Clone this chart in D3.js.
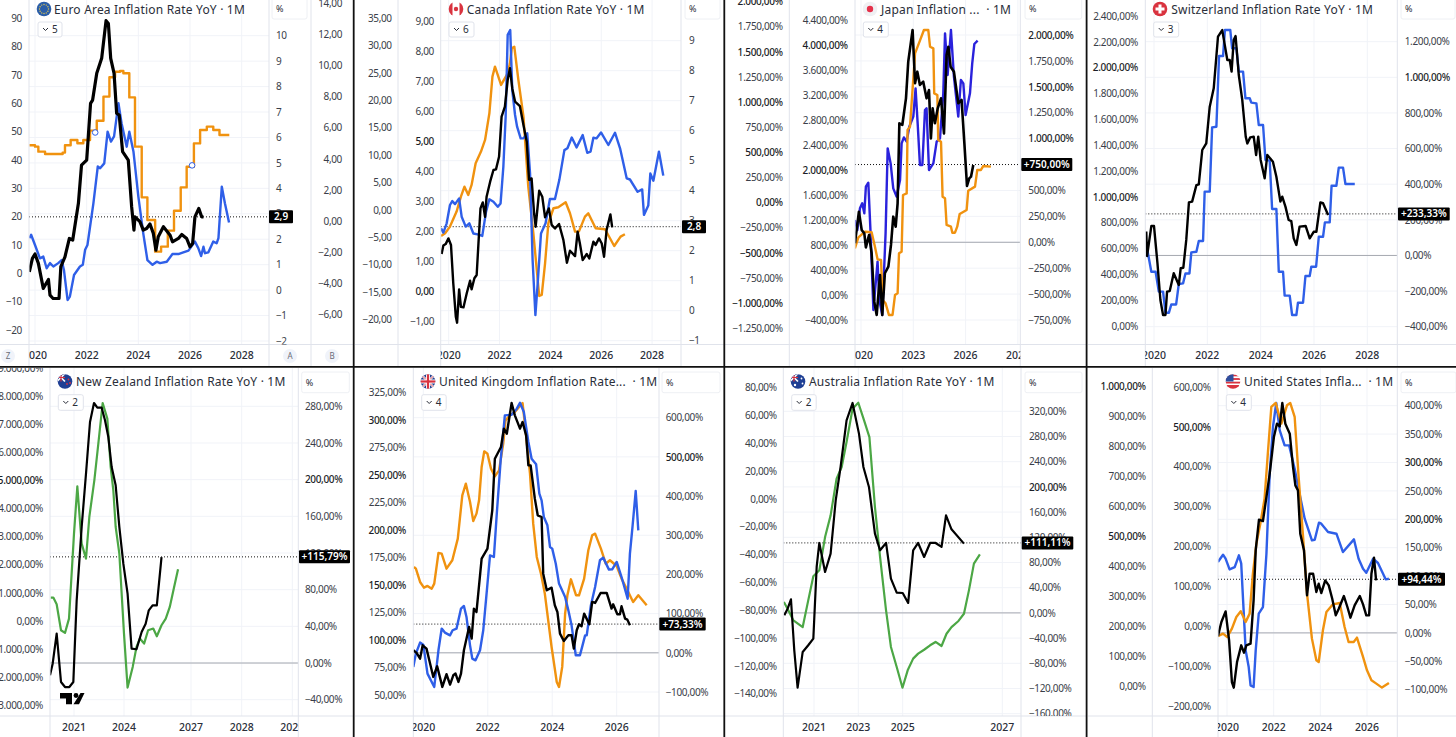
<!DOCTYPE html>
<html lang="en">
  <head>
    <meta charset="UTF-8" />
    <title>Inflation Rate YoY</title>
    <style>
      html, body { margin: 0; background: #fff; }
      text { font-family: "Noto Sans", sans-serif; fill: #2a2e39; white-space: pre; }
    </style>
  </head>
  <body>
    <div id="chart"></div>
    <script src="https://cdn.jsdelivr.net/npm/d3@7"></script>
    <script>
      // series are [year, value]
      const euroBlack = [[2019.78,.72],[2019.9,1.25],[2020,1.42],[2020.13,1.05],[2020.32,.07],[2020.52,.42],[2020.58,-.2],[2020.7,-.33],[2020.93,-.33],[2021,.92],[2021.16,1.31],[2021.33,2.03],[2021.46,1.97],[2021.68,3.41],[2021.8,4.91],[2022,5.11],[2022.15,7.34],[2022.23,7.47],[2022.39,8.52],[2022.58,9.11],[2022.75,10.59],[2022.84,10.48],[2022.93,9.11],[2023.06,8.52],[2023.16,6.95],[2023.26,6.88],[2023.39,5.44],[2023.61,5.11],[2023.74,3.28],[2023.83,2.36],[2023.87,2.88],[2024.06,2.69],[2024.19,2.36],[2024.32,2.42],[2024.45,2.6],[2024.58,2.23],[2024.68,1.57],[2024.77,2.1],[2024.97,2.49],[2025.23,2.16],[2025.32,1.9],[2025.55,2.03],[2025.68,2.19],[2025.87,2.03],[2026,1.7],[2026.1,1.83],[2026.19,2.88],[2026.34,3.21],[2026.45,2.88],[2026.52,2.88]];
      const euroBlue = [[2019.78,12.4],[2019.85,13.6],[2020,10],[2020.19,5.3],[2020.32,5.9],[2020.45,1.8],[2020.58,3.6],[2020.71,2.4],[2020.9,3.6],[2021.03,4.7],[2021.12,1.2],[2021.26,-9.4],[2021.35,-8.2],[2021.51,-.6],[2021.74,2.4],[2021.85,3],[2021.94,8.3],[2022.03,10],[2022.26,24.7],[2022.43,37.7],[2022.52,37.1],[2022.68,38.8],[2022.81,50],[2022.94,46.5],[2023.06,48.3],[2023.23,60],[2023.35,53],[2023.55,44.7],[2023.65,50],[2023.81,43],[2024,27.1],[2024.19,14.1],[2024.35,4.7],[2024.55,3],[2024.71,4.1],[2024.84,3.6],[2025.1,4.1],[2025.32,6.8],[2025.55,6.8],[2025.74,7.4],[2025.94,8],[2026.19,11.2],[2026.32,8.9],[2026.43,6.1],[2026.52,9.4],[2026.58,7.1],[2026.71,7.4],[2026.9,11.2],[2027.03,10.6],[2027.1,12.4],[2027.23,30.6],[2027.35,24.7],[2027.51,17.9]];
      const euroOrange = [[2019.78,4.87],[2020,4.78],[2020.13,4.46],[2020.39,4.31],[2021.07,4.4],[2021.16,4.87],[2021.38,5.21],[2021.64,5],[2021.87,5.21],[2022.13,5.81],[2022.39,6.45],[2022.65,8],[2022.88,9.24],[2023.1,9.6],[2023.29,9.65],[2023.42,9.5],[2023.65,7.95],[2023.87,4.78],[2024.13,1.52],[2024.35,.06],[2024.65,-1.97],[2024.88,-1.65],[2025.14,-.62],[2025.38,.66],[2025.64,2.16],[2025.87,3.49],[2026.15,4.99],[2026.39,5.85],[2026.65,6.07],[2026.9,5.85],[2027.14,5.53],[2027.52,5.53]];
      const euroMarks = [[2022.33,49.7],[2026.08,38.1]];

      const canadaBlack = [[2019.72,1.89],[2019.79,2.17],[2019.88,2.22],[2019.99,2.41],[2020.09,2.19],[2020.18,.91],[2020.28,-.2],[2020.33,-.4],[2020.41,.71],[2020.48,.13],[2020.58,.11],[2020.71,.58],[2020.84,1],[2020.9,.71],[2021.01,1.08],[2021.1,1.19],[2021.17,2.24],[2021.25,3.41],[2021.34,3.61],[2021.43,3.13],[2021.49,3.8],[2021.63,4.3],[2021.76,4.69],[2021.86,4.71],[2021.98,5.13],[2022.08,6.47],[2022.21,6.8],[2022.32,7.69],[2022.41,8.08],[2022.5,7.41],[2022.61,6.97],[2022.8,6.82],[2022.94,6.19],[2023.07,5.63],[2023.16,4.36],[2023.26,4.41],[2023.36,3.24],[2023.42,2.8],[2023.56,4],[2023.68,3.8],[2023.79,3.11],[2023.94,3.41],[2024.05,2.86],[2024.18,2.74],[2024.34,2.89],[2024.51,2.36],[2024.65,1.6],[2024.77,2],[2024.97,1.82],[2025.07,2.63],[2025.16,2.24],[2025.27,1.69],[2025.43,1.89],[2025.53,1.74],[2025.69,2.3],[2025.78,2.19],[2025.91,2.41],[2026.02,2.24],[2026.11,1.8],[2026.21,2.69],[2026.36,3.21],[2026.43,2.78]];
      const canadaBlue = [[2019.7,2.11],[2019.79,1.97],[2019.92,2.28],[2020.05,2.89],[2020.14,3.02],[2020.25,2.92],[2020.41,3.11],[2020.51,2.5],[2020.67,2.17],[2020.81,2.28],[2020.97,1.94],[2021.14,1.91],[2021.32,1.86],[2021.47,2.67],[2021.6,3.08],[2021.76,3],[2021.93,2.83],[2022.04,2.94],[2022.15,4.17],[2022.24,5.83],[2022.32,8.56],[2022.42,8.72],[2022.5,6.72],[2022.61,5.89],[2022.69,5.5],[2022.83,5.11],[2022.94,5.11],[2023.09,5.28],[2023.2,3.94],[2023.3,1.06],[2023.41,-.78],[2023.5,.28],[2023.63,1.94],[2023.81,2.28],[2023.98,3.09],[2024.18,3.09],[2024.35,3.72],[2024.55,4.72],[2024.67,4.78],[2024.84,5.14],[2025.03,4.81],[2025.27,5.22],[2025.45,4.63],[2025.58,4.67],[2025.69,5.13],[2025.81,5.11],[2025.99,5.31],[2026.28,4.89],[2026.54,5.3],[2026.74,4.78],[2027,3.78],[2027.13,3.74],[2027.43,3.33],[2027.61,3.41],[2027.68,2.56],[2027.85,2.87],[2027.93,3.94],[2028.05,3.7],[2028.27,4.67],[2028.44,3.87]];
      const canadaOrange = [[2019.7,-4.77],[2019.86,-4.28],[2020.05,-3.06],[2020.31,-.32],[2020.48,2.42],[2020.62,4.24],[2020.77,2.72],[2020.9,4.55],[2021.06,8.51],[2021.27,10.64],[2021.43,12.77],[2021.6,17.64],[2021.72,24.34],[2021.82,26.17],[2022.06,22.82],[2022.32,24.95],[2022.41,26.78],[2022.48,29.52],[2022.58,29.82],[2022.74,23.73],[2022.94,17.03],[2023.13,4.24],[2023.33,-4.28],[2023.56,-15.73],[2023.66,-15.55],[2023.79,-9.76],[2023.92,-2.45],[2024.12,.29],[2024.31,.47],[2024.6,1.38],[2024.77,-.63],[2024.97,-3.98],[2025.12,-3.98],[2025.36,-1.24],[2025.49,-.63],[2025.78,-3.37],[2026.15,-3.55],[2026.51,-6.6],[2026.76,-4.89],[2026.93,-4.46]];

      const japanBlack = [[2019.65,-10],[2019.75,119],[2019.88,295],[2020.04,119],[2020.19,86],[2020.28,-49],[2020.46,70],[2020.61,-106],[2020.76,-573],[2020.9,-701],[2021.09,-316],[2021.22,-701],[2021.37,-299],[2021.57,-235],[2021.72,-26],[2021.85,247],[2021.99,151],[2022.1,376],[2022.2,1148],[2022.37,1132],[2022.58,1389],[2022.71,1743],[2022.96,2048],[2023.1,1534],[2023.23,1646],[2023.38,1518],[2023.57,1550],[2023.76,1389],[2023.9,1469],[2024.01,1003],[2024.11,1292],[2024.24,1148],[2024.4,1292],[2024.59,1389],[2024.76,1051],[2024.91,1807],[2025.01,1887],[2025.14,1694],[2025.33,1646],[2025.58,1341],[2025.77,1373],[2025.93,955],[2026.08,543],[2026.21,617],[2026.31,633],[2026.44,746]];
      const japanBlue = [[2019.65,1204],[2019.79,1043],[2019.94,1391],[2020.07,1471],[2020.19,1311],[2020.28,1738],[2020.42,1802],[2020.55,990],[2020.71,-239],[2020.95,536],[2021.05,-79],[2021.22,-320],[2021.41,990],[2021.53,2353],[2021.7,2112],[2021.85,1711],[2022.04,1578],[2022.24,1845],[2022.33,2433],[2022.46,2529],[2022.62,2460],[2022.77,2700],[2023,2861],[2023.13,3315],[2023.25,2754],[2023.38,2086],[2023.52,2086],[2023.67,2968],[2023.76,2994],[2023.9,2005],[2024.15,2112],[2024.34,2460],[2024.53,2513],[2024.72,3235],[2024.82,4197],[2024.97,3529],[2025.16,4250],[2025.33,3502],[2025.58,2861],[2025.73,3449],[2025.87,3395],[2026,2887],[2026.25,3235],[2026.38,3716],[2026.5,4026],[2026.69,4079]];
      const japanOrange = [[2019.65,-455],[2019.85,-345],[2020.23,-289],[2020.61,-295],[2020.8,-438],[2020.95,-564],[2021.15,-571],[2021.24,-968],[2021.41,-1001],[2021.6,-1117],[2021.81,-1117],[2021.95,-919],[2022.1,-902],[2022.18,-504],[2022.33,-488],[2022.41,76],[2022.62,92],[2022.67,722],[2022.81,755],[2023.1,1485],[2023.38,1611],[2023.61,1717],[2023.86,1717],[2023.96,1551],[2024.15,1535],[2024.2,1087],[2024.38,1070],[2024.43,623],[2024.59,606],[2024.68,59],[2024.82,43],[2024.91,-222],[2025.16,-239],[2025.24,-299],[2025.39,-299],[2025.52,-239],[2025.66,-113],[2026.06,-73],[2026.15,119],[2026.54,159],[2026.67,325],[2026.88,325],[2027.02,365],[2027.45,358]];

      const swissBlack = [[2019.71,134],[2019.74,-3],[2019.9,165],[2020,165],[2020.13,-44],[2020.24,-250],[2020.34,-334],[2020.43,-334],[2020.49,-203],[2020.59,-200],[2020.74,-100],[2020.93,-166],[2021,-72],[2021.1,-69],[2021.21,87],[2021.31,298],[2021.43,302],[2021.59,395],[2021.68,399],[2021.81,592],[2021.96,629],[2022.09,835],[2022.24,938],[2022.4,1228],[2022.56,1265],[2022.75,1097],[2022.84,1097],[2022.91,1032],[2022.99,1209],[2023.06,1232],[2023.18,1013],[2023.31,873],[2023.44,667],[2023.5,629],[2023.61,663],[2023.74,667],[2023.83,564],[2023.91,667],[2024,536],[2024.15,433],[2024.25,564],[2024.46,526],[2024.59,442],[2024.74,302],[2024.81,330],[2024.93,274],[2025.05,199],[2025.15,193],[2025.24,96],[2025.34,59],[2025.46,162],[2025.69,165],[2025.84,96],[2025.99,133],[2026.09,133],[2026.24,298],[2026.34,293],[2026.53,227]];
      const swissBlue = [[2019.74,601],[2019.9,420],[2020.06,420],[2020.18,266],[2020.34,266],[2020.43,103],[2020.56,103],[2020.65,167],[2020.83,167],[2020.93,325],[2021.09,330],[2021.18,407],[2021.33,407],[2021.4,570],[2021.59,575],[2021.68,658],[2021.84,658],[2021.9,1040],[2022.09,1040],[2022.18,1538],[2022.34,1543],[2022.44,2090],[2022.59,2090],[2022.66,2292],[2022.86,2292],[2022.93,2150],[2023.09,2150],[2023.18,1969],[2023.34,1969],[2023.43,1763],[2023.59,1763],[2023.65,1729],[2023.84,1724],[2023.93,1556],[2024.09,1556],[2024.18,1285],[2024.34,1280],[2024.43,906],[2024.59,906],[2024.68,420],[2024.84,420],[2024.9,235],[2025.09,235],[2025.18,85],[2025.34,85],[2025.4,180],[2025.59,180],[2025.68,387],[2025.84,387],[2025.9,459],[2026.08,459],[2026.18,691],[2026.34,691],[2026.41,802],[2026.59,802],[2026.66,1086],[2026.84,1086],[2026.93,1226],[2027.09,1226],[2027.18,1099],[2027.53,1099]];

      const nzBlack = [[2019.56,-13.4],[2019.72,-.7],[2019.96,32],[2020.22,-20.7],[2020.46,-26.2],[2020.72,-26.2],[2020.96,-20.7],[2021.16,68.4],[2021.46,148.4],[2021.72,206.5],[2021.96,262.9],[2022.2,283.6],[2022.4,278.5],[2022.66,278.5],[2022.86,264.7],[2023.06,246.5],[2023.26,213.8],[2023.5,193.8],[2023.72,148.4],[2023.96,108.4],[2024.16,75.7],[2024.34,15.7],[2024.56,15],[2024.79,33.8],[2024.97,42.9],[2025.11,57.5],[2025.28,62.9],[2025.47,62.9],[2025.68,115.6]];
      const nzGreen = [[2019.6,831],[2019.76,831],[2019.96,594],[2020.22,-330],[2020.46,-425],[2020.7,84],[2021,3106],[2021.2,4789],[2021.46,2750],[2021.72,2217],[2021.92,3698],[2022.22,5002],[2022.46,6305],[2022.72,7751],[2023,7194],[2023.2,5476],[2023.36,4646],[2023.5,3343],[2023.72,2395],[2024,-449],[2024.16,-2369],[2024.39,-1634],[2024.56,-923],[2024.71,-627],[2024.9,-805],[2025.08,-331],[2025.31,-271],[2025.47,-544],[2025.68,-153],[2025.87,84],[2026.05,499],[2026.23,1151],[2026.42,1838]];

      const ukBlack = [[2019.69,6.5],[2019.79,-.3],[2019.9,-14.8],[2019.98,19.2],[2020.1,10.7],[2020.21,-27.5],[2020.31,-61.5],[2020.43,-34.3],[2020.59,-87],[2020.72,-54.7],[2020.83,-81.1],[2020.93,-57.3],[2021,-53],[2021.09,-74.3],[2021.17,-53],[2021.26,6.5],[2021.42,66],[2021.5,36.3],[2021.57,112.8],[2021.65,104.3],[2021.81,240.3],[2021.99,265.8],[2022.14,363.6],[2022.22,495.4],[2022.41,525.2],[2022.5,572],[2022.59,559.2],[2022.74,637.4],[2022.84,606],[2023,572],[2023.08,589],[2023.19,554.9],[2023.26,478.4],[2023.33,478.4],[2023.46,393.4],[2023.55,350.9],[2023.67,346.6],[2023.72,202],[2023.83,159.5],[2023.98,166.3],[2024.08,121.3],[2024.16,104.3],[2024.24,49],[2024.36,30.3],[2024.5,44.8],[2024.6,44.8],[2024.67,10.7],[2024.76,57.5],[2024.83,72.8],[2024.91,67.7],[2024.99,100],[2025.15,72.8],[2025.24,129.8],[2025.33,127.2],[2025.5,152.7],[2025.69,152.7],[2025.84,112.8],[2025.89,123.8],[2026.02,98.3],[2026.1,98.3],[2026.15,118.7],[2026.26,87.3],[2026.33,84.7],[2026.41,70.2]];
      const ukBlue = [[2019.69,75.8],[2019.77,87.9],[2019.9,97.9],[2020,96],[2020.13,69.7],[2020.34,57.6],[2020.47,90.9],[2020.57,110.6],[2020.67,107],[2020.83,104.5],[2020.91,109.1],[2021.03,110.6],[2021.17,128.8],[2021.26,131.2],[2021.34,121.2],[2021.45,95.4],[2021.52,83.3],[2021.62,81.8],[2021.76,90.9],[2021.86,109.1],[2022.07,177.2],[2022.19,175.7],[2022.28,215.1],[2022.4,263.5],[2022.53,304.4],[2022.74,305],[2022.9,310.5],[2023,315.9],[2023.12,307.4],[2023.26,280.2],[2023.36,265],[2023.5,259.9],[2023.6,233.2],[2023.67,227.2],[2023.74,212],[2023.85,204.5],[2023.93,184.8],[2024,183.3],[2024.11,169.6],[2024.21,151.5],[2024.4,139.4],[2024.5,127.2],[2024.6,113.6],[2024.73,86.4],[2024.86,86.4],[2024.94,95.4],[2025.02,104.5],[2025.07,104.5],[2025.2,131.8],[2025.33,148.4],[2025.48,172.7],[2025.58,175.1],[2025.76,164.2],[2025.86,164.5],[2026,171.2],[2026.15,157.5],[2026.34,137.8],[2026.41,178.7],[2026.49,203],[2026.59,235.7],[2026.67,199.9]];
      const ukOrange = [[2019.71,166.6],[2019.77,165.1],[2019.9,153],[2020.02,147.8],[2020.13,149.4],[2020.26,146.9],[2020.34,151.5],[2020.47,179.3],[2020.57,178.7],[2020.72,165.1],[2020.9,172.7],[2021.07,192.4],[2021.21,231.7],[2021.32,242.3],[2021.45,225.7],[2021.55,208.4],[2021.65,215.1],[2021.73,227.2],[2021.81,257.5],[2021.89,271.7],[2021.99,269.6],[2022.1,256],[2022.22,249],[2022.35,254.4],[2022.48,278.7],[2022.55,299.9],[2022.69,304.4],[2022.84,307.4],[2023.08,315.6],[2023.15,296.8],[2023.31,251.4],[2023.41,206],[2023.52,175.7],[2023.65,160.6],[2023.77,142.4],[2023.98,93.9],[2024.14,62.1],[2024.21,57.6],[2024.31,75.8],[2024.4,124.2],[2024.47,140.9],[2024.58,155.4],[2024.74,140.9],[2024.83,140.9],[2024.99,156],[2025.12,181.8],[2025.24,195.4],[2025.33,196.9],[2025.51,183.3],[2025.66,169.6],[2025.79,172.7],[2026,167.5],[2026.15,156],[2026.31,146.9],[2026.51,134.8],[2026.67,140.9],[2026.93,131.8]];

      const ausBlack = [[2019.66,-3.8],[2019.81,6.8],[2019.96,21.6],[2020.11,-59.4],[2020.26,-118.6],[2020.49,-62],[2020.74,-51.4],[2020.97,-40.8],[2021.12,72.9],[2021.24,111],[2021.5,65],[2021.75,94.1],[2021.98,178.7],[2022.2,231.6],[2022.47,305.7],[2022.74,333.2],[2023.03,284.6],[2023.23,231.6],[2023.48,199.9],[2023.75,125.8],[2023.98,99.4],[2024.25,111],[2024.47,54.4],[2024.73,32.2],[2025,31.6],[2025.11,15.8],[2025.21,99.4],[2025.31,111],[2025.43,88.8],[2025.55,111],[2025.66,111],[2025.78,104.7],[2025.87,154.9],[2025.98,132.7],[2026.23,110]];
      const ausGreen = [[2019.64,-74],[2019.84,-80],[2020.07,-87.3],[2020.49,-92.1],[2020.74,-72.9],[2020.97,-55.6],[2021.24,-51.3],[2021.5,-27.4],[2021.75,-11.8],[2022.02,14.6],[2022.25,23],[2022.47,40.9],[2022.74,64.9],[2023,69.2],[2023.26,56.5],[2023.5,44.5],[2023.75,-5.8],[2023.98,-41.7],[2024.25,-80.1],[2024.47,-106.4],[2024.73,-120.8],[2024.99,-135.7],[2025.1,-123.2],[2025.21,-114.8],[2025.31,-111.2],[2025.43,-108.4],[2025.55,-105.2],[2025.66,-102.8],[2025.78,-105.7],[2025.88,-96.9],[2025.98,-92.1],[2026.12,-87.7],[2026.23,-82.5],[2026.33,-65.7],[2026.43,-46.5],[2026.55,-39.8]];

      const usBlack = [[2019.61,-6],[2019.76,19.1],[2019.94,37.9],[2020.09,-13.1],[2020.21,-86.5],[2020.29,-96.5],[2020.43,-51.3],[2020.61,-21.9],[2020.73,-34.9],[2020.83,-21.9],[2021.01,-19],[2021.14,57.3],[2021.23,145.3],[2021.37,199.3],[2021.54,196.9],[2021.69,239.2],[2021.83,280.3],[2022.01,344.8],[2022.14,368.3],[2022.26,363.6],[2022.37,404.7],[2022.5,368.3],[2022.69,350.7],[2022.83,292],[2022.93,259.7],[2023.04,250.9],[2023.14,174.6],[2023.3,145.3],[2023.43,66.1],[2023.54,104.2],[2023.69,104.2],[2023.83,72],[2023.93,86.6],[2024.04,70.2],[2024.21,92.5],[2024.36,83.7],[2024.51,60.2],[2024.66,30.9],[2024.79,42.6],[2025.01,64.9],[2025.16,45.6],[2025.29,26.8],[2025.47,48.5],[2025.69,64.9],[2025.83,50.2],[2025.97,30.9],[2026.09,30.9],[2026.19,104.2],[2026.3,132.4],[2026.39,92.5]];
      const usBlue = [[2019.61,161],[2019.83,179.4],[2019.94,169.4],[2020.11,142.6],[2020.33,148.5],[2020.51,177.8],[2020.61,156.9],[2020.69,64.9],[2020.8,-60.5],[2020.93,-102.3],[2021.01,-148.3],[2021.14,-152.5],[2021.23,-60.5],[2021.36,31.4],[2021.54,48.2],[2021.69,181.9],[2021.83,382.6],[2021.97,499.7],[2022.11,559.9],[2022.26,491.3],[2022.47,453.7],[2022.66,453.7],[2022.9,395.2],[2023.11,332.4],[2023.33,269.7],[2023.64,215.4],[2023.76,217],[2023.94,259.7],[2024.04,257.2],[2024.33,236.3],[2024.69,232.1],[2024.97,186.1],[2025.44,217.9],[2025.64,169.4],[2025.83,144.3],[2025.97,134.3],[2026.26,169.4],[2026.47,158.6],[2026.8,117.6],[2026.94,119.2]];
      const usOrange = [[2019.61,167],[2019.83,175.6],[2020.01,164.4],[2020.21,192.2],[2020.4,231.1],[2020.59,250],[2020.8,214.4],[2020.97,242.2],[2021.11,375.6],[2021.26,475.6],[2021.43,542.2],[2021.61,625.6],[2021.76,786.7],[2021.9,931.1],[2022.09,944.4],[2022.33,875.6],[2022.57,936.7],[2022.71,944.4],[2022.9,897.8],[2023.07,697.8],[2023.26,497.8],[2023.43,308.9],[2023.64,158.9],[2023.83,86.7],[2023.93,81.1],[2024.11,186.7],[2024.26,247.8],[2024.54,273.3],[2024.83,277.8],[2025.04,197.8],[2025.21,147.8],[2025.43,147.8],[2025.57,162.2],[2025.83,97.8],[2026,53.3],[2026.19,20],[2026.4,8.9],[2026.64,-4.4],[2026.94,11.1]];

      // tick labels
      const euroYears = [2020, 2022, 2024, 2026, 2028];
      const euroTicksL = [90, 80, 70, 60, 50, 40, 30, 20, 10, 0, -10, -20];
      const euroTicksA = [10, 9, 8, 7, 6, 5, 4, 3, 2, 1, 0, -1, -2];
      const euroTicksB = [14, 12, 10, 8, 6, 4, 2, 0, -2, -4, -6];
      const canadaTicksL1 = [35, 30, 25, 20, 15, 10, 5, 0, -5, -10, -15, -20];
      const canadaTicksL2 = [9, 8, 7, 6, 5, 4, 3, 2, 1, 0, -1];
      const canadaTicksR = [9, 8, 7, 6, 5, 4, 3, 2, 1, 0, -1];
      const japanYears = [2020, 2023, 2026, 2029];
      const japanTicksL1 = [2000, 1750, 1500, 1250, 1000, 750, 500, 250, 0, -250, -500, -750, -1000, -1250];
      const japanTicksL2 = [4400, 4000, 3600, 3200, 2800, 2400, 2000, 1600, 1200, 800, 400, 0, -400];
      const japanTicksR = [2000, 1750, 1500, 1250, 1000, 500, 250, 0, -250, -500, -750];
      const swissTicksL = [2400, 2200, 2000, 1800, 1600, 1400, 1200, 1000, 800, 600, 400, 200, 0];
      const swissTicksR = [1200, 1000, 800, 600, 400, 200, 0, -200, -400];
      const nzYears = [2021, 2024, 2027, 2028, 2029];
      const nzTicksL = [9000, 8000, 7000, 6000, 5000, 4000, 3000, 2000, 1000, 0, -1000, -2000, -3000];
      const nzTicksR = [280, 240, 200, 160, 120, 80, 40, 0, -40];
      const ukYears = [2020, 2022, 2024, 2026];
      const ukTicksL = [325, 300, 275, 250, 225, 200, 175, 150, 125, 100, 75, 50];
      const ukTicksR = [600, 500, 400, 300, 200, 100, 0, -100];
      const ausYears = [2021, 2023, 2025, 2027];
      const ausTicksL = [80, 60, 40, 20, 0, -20, -40, -60, -80, -100, -120, -140];
      const ausTicksR = [320, 280, 240, 200, 160, 120, 80, 40, 0, -40, -80, -120, -160];
      const usYears = [2020, 2022, 2024, 2026];
      const usTicksL1 = [1000, 900, 800, 700, 600, 500, 400, 300, 200, 100, 0];
      const usTicksL2 = [600, 500, 400, 300, 200, 100, 0, -100, -200];
      const usTicksR = [400, 350, 300, 250, 200, 150, 100, 50, 0, -50, -100];

      const BLACK = "#000", BLUE = "#2f5fe8", ORANGE = "#f0920f", GREEN = "#4ca745", INDIGO = "#2a22dc";

      const W = 1456, H = 737;
      const TOP = { y0: 0, y1: 366, axisY: 344.5, timeY: 355, titleY: 9.5, pctY0: -2, pctY1: 19, legY0: 22, legY1: 37 };
      const BOT = { y0: 368, y1: 737, axisY: 716, timeY: 727, titleY: 382, pctY0: 372, pctY1: 392.7, legY0: 394.7, legY1: 410.3 };

      const panels = [
        {
          row: TOP, x0: 0, x1: 353, plotL: 29, plotR: 269, seps: [29, 269, 311],
          title: "Euro Area Inflation Rate YoY · 1M", titleX: 54, flag: "eu", flagX: 44,
          legend: "5", legX: 38, legW: 24, pctX0: 272, pctX1: 307,
          years: euroYears, xDom: [2020, 2028], xRan: [35, 241.7],
          axes: {
            l: { x: 22, side: "left", dom: [90, -20], ran: [18.3, 330], ticks: euroTicksL, fmt: "int" },
            r: { x: 276, side: "right", dom: [10, -2], ran: [35.7, 341], ticks: euroTicksA, fmt: "int" },
            b: { x: 342, side: "left", dom: [14, -6], ran: [3.3, 314.3], ticks: euroTicksB, fmt: "dec" }
          },
          series: [
            { data: euroOrange, axis: "b", color: ORANGE, width: 2.4, step: true },
            { data: euroBlue, axis: "l", color: BLUE, width: 2.4 },
            { data: euroBlack, axis: "r", color: BLACK, width: 3.2 }
          ],
          marks: { data: euroMarks, axis: "l" },
          last: 2.88, lastText: "2,9", tagX: 269, tagW: 24
        },
        {
          row: TOP, x0: 355, x1: 724, plotL: 440.7, plotR: 681, seps: [398, 440.7, 681],
          title: "Canada Inflation Rate YoY · 1M", titleX: 466.7, flag: "ca", flagX: 456,
          legend: "6", legX: 449, legW: 25, pctX0: 685, pctX1: 720,
          years: euroYears, xDom: [2020, 2028], xRan: [448.7, 652.1],
          axes: {
            l1: { x: 391.7, side: "left", dom: [35, -20], ran: [18.3, 319.3], ticks: canadaTicksL1, fmt: "dec" },
            l2: { x: 434, side: "left", dom: [9, -1], ran: [21.7, 321.7], ticks: canadaTicksL2, fmt: "dec", bold: [5, 0] },
            r: { x: 689, side: "right", dom: [9, -1], ran: [40.7, 340.7], ticks: canadaTicksR, fmt: "int" }
          },
          series: [
            { data: canadaOrange, axis: "l1", color: ORANGE, width: 2.4 },
            { data: canadaBlue, axis: "l2", color: BLUE, width: 2.4 },
            { data: canadaBlack, axis: "r", color: BLACK, width: 2.4 }
          ],
          last: 2.8, lastText: "2,8", tagX: 682, tagW: 24
        },
        {
          row: TOP, x0: 725, x1: 1086, plotL: 855, plotR: 1020.3, seps: [789.3, 855, 1020.3], zero: true,
          title: "Japan Inflation ...  · 1M", titleX: 881, flag: "jp", flagX: 870,
          legend: "4", legX: 863.3, legW: 25, pctX0: 1025, pctX1: 1081.7,
          years: japanYears, xDom: [2023, 2026], xRan: [913.3, 965.6],
          axes: {
            l1: { x: 782.7, side: "left", dom: [1750, -1250], ran: [26.7, 328.3], ticks: japanTicksL1, fmt: "pct", bold: [2000, 1500, 1000, 500, 0, -500, -1000] },
            l2: { x: 847.7, side: "left", dom: [4400, -400], ran: [20.7, 320], ticks: japanTicksL2, fmt: "pct", bold: [4000, 2000] },
            r: { x: 1028.3, side: "right", dom: [2000, -750], ran: [35, 320], ticks: japanTicksR, fmt: "pct", bold: [2000, 1500, 1000] }
          },
          series: [
            { data: japanBlue, axis: "l2", color: INDIGO, width: 2.4 },
            { data: japanOrange, axis: "l1", color: ORANGE, width: 2.4 },
            { data: japanBlack, axis: "r", color: BLACK, width: 2.6 }
          ],
          last: 750, lastText: "+750,00%", tagX: 1021.3, tagW: 51
        },
        {
          row: TOP, x0: 1088, x1: 1456, plotL: 1145.3, plotR: 1397.3, seps: [1145.3, 1397.3], zero: true,
          title: "Switzerland Inflation Rate YoY · 1M", titleX: 1171.3, flag: "ch", flagX: 1160,
          legend: "3", legX: 1153.7, legW: 25, pctX0: 1401, pctX1: 1455,
          years: euroYears, xDom: [2020, 2028], xRan: [1154, 1367.3],
          axes: {
            l: { x: 1138, side: "left", dom: [2400, 0], ran: [16, 326], ticks: swissTicksL, fmt: "pct", bold: [2000, 1000] },
            r: { x: 1404.7, side: "right", dom: [1200, -400], ran: [41.7, 326.7], ticks: swissTicksR, fmt: "pct", bold: [1000] }
          },
          series: [
            { data: swissBlue, axis: "l", color: BLUE, width: 2.4 },
            { data: swissBlack, axis: "r", color: BLACK, width: 2.4 }
          ],
          last: 233.33, lastText: "+233,33%", tagX: 1398, tagW: 51.7
        },
        {
          row: BOT, x0: 0, x1: 353, plotL: 50, plotR: 298.3, seps: [50, 298.3], zero: true, logo: true,
          title: "New Zealand Inflation Rate YoY · 1M", titleX: 76, flag: "nz", flagX: 65,
          legend: "2", legX: 58.3, legW: 25, pctX0: 301.7, pctX1: 349.3,
          years: nzYears, xDom: [2021, 2024, 2027, 2028, 2029], xRan: [74, 124, 191, 241.7, 292.3],
          axes: {
            l: { x: 43, side: "left", dom: [8000, -3000], ran: [396, 705.3], ticks: nzTicksL, fmt: "pct", bold: [5000] },
            r: { x: 305, side: "right", dom: [280, -40], ran: [406.3, 699.7], ticks: nzTicksR, fmt: "pct", bold: [200] }
          },
          series: [
            { data: nzGreen, axis: "l", color: GREEN, width: 2.2 },
            { data: nzBlack, axis: "r", color: BLACK, width: 2.2 }
          ],
          last: 115.79, lastText: "+115,79%", tagX: 299, tagW: 51
        },
        {
          row: BOT, x0: 355, x1: 724, plotL: 413.3, plotR: 659, seps: [413.3, 659], zero: true,
          title: "United Kingdom Inflation Rate...  · 1M", titleX: 439, flag: "uk", flagX: 428,
          legend: "4", legX: 421.7, legW: 24.5, pctX0: 662, pctX1: 720,
          years: ukYears, xDom: [2020, 2026], xRan: [423.3, 616.7],
          axes: {
            l: { x: 406, side: "left", dom: [325, 50], ran: [392.7, 695.3], ticks: ukTicksL, fmt: "pct", bold: [300, 250, 200, 150, 100] },
            r: { x: 665.7, side: "right", dom: [600, -100], ran: [417.7, 692], ticks: ukTicksR, fmt: "pct", bold: [500] }
          },
          series: [
            { data: ukOrange, axis: "l", color: ORANGE, width: 2.4 },
            { data: ukBlue, axis: "l", color: BLUE, width: 2.4 },
            { data: ukBlack, axis: "r", color: BLACK, width: 2.4 }
          ],
          last: 73.33, lastText: "+73,33%", tagX: 659.3, tagW: 46.4
        },
        {
          row: BOT, x0: 725, x1: 1086, plotL: 783.3, plotR: 1021, seps: [783.3, 1021], zero: true,
          title: "Australia Inflation Rate YoY · 1M", titleX: 809, flag: "au", flagX: 798,
          legend: "2", legX: 791.7, legW: 24.5, pctX0: 1025, pctX1: 1082,
          years: ausYears, xDom: [2021, 2023, 2025, 2027], xRan: [814, 858.3, 902.7, 1002.3],
          axes: {
            l: { x: 776.7, side: "left", dom: [80, -140], ran: [387.7, 693.7], ticks: ausTicksL, fmt: "pct" },
            r: { x: 1029, side: "right", dom: [320, -160], ran: [411.3, 713.7], ticks: ausTicksR, fmt: "pct", bold: [200] }
          },
          series: [
            { data: ausGreen, axis: "l", color: GREEN, width: 2.2 },
            { data: ausBlack, axis: "r", color: BLACK, width: 2.2 }
          ],
          last: 111.11, lastText: "+111,11%", tagX: 1021.7, tagW: 51.6
        },
        {
          row: BOT, x0: 1088, x1: 1456, plotL: 1218, plotR: 1397.3, seps: [1152.3, 1218, 1397.3], zero: true,
          title: "United States Infla...  · 1M", titleX: 1244, flag: "us", flagX: 1233,
          legend: "4", legX: 1226.3, legW: 25, pctX0: 1401, pctX1: 1456,
          years: usYears, xDom: [2020, 2026], xRan: [1227, 1367],
          axes: {
            l1: { x: 1145.7, side: "left", dom: [1000, 0], ran: [386.3, 686.3], ticks: usTicksL1, fmt: "pct", bold: [1000, 500] },
            l2: { x: 1210.7, side: "left", dom: [600, -200], ran: [387, 706], ticks: usTicksL2, fmt: "pct", bold: [500] },
            r: { x: 1404.7, side: "right", dom: [400, -100], ran: [405.7, 689.7], ticks: usTicksR, fmt: "pct", bold: [300, 200] }
          },
          series: [
            { data: usBlue, axis: "l2", color: BLUE, width: 2.4 },
            { data: usOrange, axis: "l1", color: ORANGE, width: 2.4 },
            { data: usBlack, axis: "r", color: BLACK, width: 2.4 }
          ],
          last: 94.44, lastText: "+94,44%", tagX: 1398, tagW: 47
        }
      ];

      const locale = d3.formatLocale({ decimal: ",", thousands: ".", grouping: [3], currency: ["", ""], minus: "\u2212" });
      const formats = {
        int: locale.format("d"),
        dec: locale.format(",.2f"),
        pct: (v) => locale.format(",.2f")(v) + "%"
      };

      const svg = d3.select("#chart").append("svg")
        .attr("width", W).attr("height", H)
        .style("display", "block");
      svg.append("rect").attr("width", W).attr("height", H).attr("fill", "#fff");
      const defs = svg.append("defs");

      panels.forEach((p, i) => drawPanel(p, i));

      // frame between the panels
      [353.7, 724.3, 1086.6].forEach((x) => {
        svg.append("line").attr("x1", x).attr("x2", x).attr("y1", 0).attr("y2", H)
          .attr("stroke", "#111").attr("stroke-width", 1.8);
      });
      svg.append("line").attr("x1", 0).attr("x2", W).attr("y1", 366.8).attr("y2", 366.8)
        .attr("stroke", "#111").attr("stroke-width", 1.8);

      function clip(id, x, y, w, h) {
        defs.append("clipPath").attr("id", id).append("rect")
          .attr("x", x).attr("y", y).attr("width", w).attr("height", h);
        return `url(#${id})`;
      }

      function drawPanel(p, i) {
        const row = p.row;
        const g = svg.append("g");
        const x = d3.scaleLinear().domain(p.xDom).range(p.xRan);

        const scales = {};
        Object.keys(p.axes).forEach((k) => {
          const a = p.axes[k];
          scales[k] = d3.scaleLinear().domain(a.dom).range(a.ran);
        });

        // grid follows the right hand price scale and the year ticks
        const plotClip = clip(`plot${i}`, p.plotL, row.y0, p.plotR - p.plotL, row.axisY - row.y0);
        const plot = g.append("g").attr("clip-path", plotClip);
        plot.selectAll("line.h").data(p.axes.r.ticks).join("line")
          .attr("x1", p.plotL).attr("x2", p.plotR)
          .attr("y1", (d) => scales.r(d)).attr("y2", (d) => scales.r(d))
          .attr("stroke", "#f1f3f8");
        plot.selectAll("line.v").data(p.years).join("line")
          .attr("x1", (d) => x(d)).attr("x2", (d) => x(d))
          .attr("y1", row.y0).attr("y2", row.axisY)
          .attr("stroke", "#f1f3f8");

        p.seps.forEach((sx) => {
          g.append("line").attr("x1", sx).attr("x2", sx).attr("y1", row.y0).attr("y2", row.y1)
            .attr("stroke", "#e0e3eb");
        });
        g.append("line").attr("x1", p.x0).attr("x2", p.x1).attr("y1", row.axisY).attr("y2", row.axisY)
          .attr("stroke", "#e0e3eb");

        if (p.zero) {
          plot.append("line").attr("x1", p.plotL).attr("x2", p.plotR)
            .attr("y1", scales.r(0)).attr("y2", scales.r(0))
            .attr("stroke", "#a5a8b0").attr("stroke-width", 1);
        }

        // value axes
        const axesClip = clip(`axes${i}`, p.x0, row.y0, p.x1 - p.x0, row.axisY - row.y0);
        const axesG = g.append("g").attr("clip-path", axesClip);
        Object.keys(p.axes).forEach((k) => {
          const a = p.axes[k];
          const gen = a.side == "left" ? d3.axisLeft(scales[k]) : d3.axisRight(scales[k]);
          gen.tickValues(a.ticks).tickSize(0).tickPadding(0).tickFormat(formats[a.fmt]);
          const ag = axesG.append("g").attr("transform", `translate(${a.x},0)`).call(gen);
          ag.select(".domain").remove();
          ag.selectAll("text")
            .style("font-family", '"Noto Sans", sans-serif')
            .style("font-size", "10px")
            .style("letter-spacing", "-0.35px")
            .style("font-weight", (d) => (a.bold && a.bold.includes(d) ? 500 : 400))
            .style("fill", (d) => (a.bold && a.bold.includes(d) ? "#1b1e27" : "#3a3e49"));
        });

        // lines
        plot.append("line").attr("x1", p.plotL).attr("x2", p.plotR)
          .attr("y1", scales.r(p.last)).attr("y2", scales.r(p.last))
          .attr("stroke", "#111").attr("stroke-dasharray", "1 2");
        p.series.forEach((s) => {
          const line = d3.line()
            .x((d) => x(d[0]))
            .y((d) => scales[s.axis](d[1]))
            .curve(s.step ? d3.curveStepAfter : d3.curveLinear);
          plot.append("path").datum(s.data)
            .attr("fill", "none").attr("stroke", s.color).attr("stroke-width", s.width)
            .attr("stroke-linejoin", "round")
            .attr("d", line);
        });
        if (p.marks) {
          plot.selectAll("circle").data(p.marks.data).join("circle")
            .attr("cx", (d) => x(d[0])).attr("cy", (d) => scales[p.marks.axis](d[1]))
            .attr("r", 2.8).attr("fill", "#fff").attr("stroke", BLUE);
        }

        // year labels, cut off at the edges of the plot like the original
        const timeClip = clip(`time${i}`, p.plotL, row.axisY, p.plotR - p.plotL, row.y1 - row.axisY);
        g.append("g").attr("clip-path", timeClip)
          .selectAll("text").data(p.years).join("text")
          .attr("x", (d) => x(d)).attr("y", row.timeY)
          .attr("text-anchor", "middle").attr("dy", "0.35em")
          .attr("font-size", 10.5).attr("font-weight", 500)
          .text((d) => d);

        // last value tag
        g.append("rect").attr("x", p.tagX).attr("width", p.tagW).attr("height", 13)
          .attr("y", scales.r(p.last) - 6.5).attr("fill", "#000").attr("rx", 1);
        g.append("text").attr("x", p.tagX + p.tagW / 2).attr("y", scales.r(p.last))
          .attr("dy", "0.35em").attr("text-anchor", "middle")
          .attr("font-size", 10).attr("font-weight", 600).style("fill", "#fff")
          .text(p.lastText);

        // % box
        g.append("rect").attr("x", p.pctX0).attr("y", row.pctY0)
          .attr("width", p.pctX1 - p.pctX0).attr("height", row.pctY1 - row.pctY0)
          .attr("fill", "#fff").attr("stroke", "#eef0f4").attr("rx", 2);
        g.append("text").attr("x", p.pctX0 + 4).attr("y", (row.pctY0 + row.pctY1) / 2)
          .attr("dy", "0.35em").attr("font-size", 9).text("%");

        // title and legend
        drawFlag(g, p.flag, p.flagX, row.titleY - 0.5, 7.3, i);
        g.append("text").attr("x", p.titleX).attr("y", row.titleY).attr("dy", "0.35em")
          .attr("font-size", 12).style("letter-spacing", "0.19px").text(p.title);
        g.append("rect").attr("x", p.legX).attr("y", row.legY0)
          .attr("width", p.legW).attr("height", row.legY1 - row.legY0)
          .attr("fill", "#fff").attr("stroke", "#e0e3eb").attr("rx", 2);
        const cy = (row.legY0 + row.legY1) / 2;
        g.append("path")
          .attr("d", `M${p.legX + 5},${cy - 1.5}l2.5,2.5l2.5,-2.5`)
          .attr("fill", "none").attr("stroke", "#2a2e39");
        g.append("text").attr("x", p.legX + 14).attr("y", cy).attr("dy", "0.35em")
          .attr("font-size", 10).text(p.legend);

        if (p.logo) {
          g.append("path")
            .attr("d", "M60,693H72V704.3H66V698.5H60ZM80.5,693H84.5L79,704.3H73.5Z")
            .attr("fill", "#000");
          g.append("circle").attr("cx", 76).attr("cy", 695.5).attr("r", 2.4).attr("fill", "#000");
        }
        if (i == 0) {
          [[8, "Z"], [290, "A"], [332, "B"]].forEach((b) => {
            g.append("circle").attr("cx", b[0]).attr("cy", 356).attr("r", 7).attr("fill", "#f0f3fa");
            g.append("text").attr("x", b[0]).attr("y", 356).attr("dy", "0.35em")
              .attr("text-anchor", "middle").attr("font-size", 8).style("fill", "#6a6d78").text(b[1]);
          });
        }
      }

      function drawFlag(g, kind, cx, cy, r, i) {
        defs.append("clipPath").attr("id", `flag${i}`).append("circle")
          .attr("cx", cx).attr("cy", cy).attr("r", r);
        const f = g.append("g").attr("clip-path", `url(#flag${i})`);
        const box = (x, y, w, h, c) => f.append("rect")
          .attr("x", cx + x).attr("y", cy + y).attr("width", w).attr("height", h).attr("fill", c);
        const dot = (x, y, rr, c) => f.append("circle")
          .attr("cx", cx + x).attr("cy", cy + y).attr("r", rr).attr("fill", c);
        const bar = (x1, y1, x2, y2, c, w) => f.append("line")
          .attr("x1", cx + x1).attr("y1", cy + y1).attr("x2", cx + x2).attr("y2", cy + y2)
          .attr("stroke", c).attr("stroke-width", w);
        if (kind == "eu") {
          box(-8, -8, 16, 16, "#2b5ea8");
          d3.range(12).forEach((k) => {
            const a = (k * Math.PI) / 6;
            dot(Math.cos(a) * 4.5, Math.sin(a) * 4.5, 0.7, "#e8c84a");
          });
        } else if (kind == "ca") {
          box(-8, -8, 16, 16, "#fff");
          box(-8, -8, 4.5, 16, "#d9333f");
          box(3.5, -8, 4.5, 16, "#d9333f");
          dot(0, 0, 2.2, "#d9333f");
        } else if (kind == "jp") {
          box(-8, -8, 16, 16, "#f0f0f3");
          dot(0, 0, 3.2, "#e5304a");
        } else if (kind == "ch") {
          box(-8, -8, 16, 16, "#d9333f");
          box(-4.5, -1.5, 9, 3, "#fff");
          box(-1.5, -4.5, 3, 9, "#fff");
        } else if (kind == "nz" || kind == "au") {
          box(-8, -8, 16, 16, "#1f3f94");
          box(-8, -8, 8, 8, "#27408f");
          bar(-8, -8, 0, 0, "#fff", 1.6);
          bar(0, -8, -8, 0, "#fff", 1.6);
          bar(-4, -8, -4, 0, "#d9333f", 1.2);
          bar(-8, -4, 0, -4, "#d9333f", 1.2);
          if (kind == "nz") {
            dot(3.5, -2, 0.9, "#d9333f");
            dot(5, 1.5, 0.9, "#d9333f");
            dot(2, 2.5, 0.9, "#d9333f");
          } else {
            dot(3.5, -3, 0.9, "#fff");
            dot(4.5, 2, 0.9, "#fff");
            dot(-3, 3.5, 1.2, "#fff");
          }
        } else if (kind == "uk") {
          box(-8, -8, 16, 16, "#27408f");
          bar(-8, -8, 8, 8, "#fff", 2.2);
          bar(8, -8, -8, 8, "#fff", 2.2);
          bar(-8, -8, 8, 8, "#d9333f", 0.9);
          bar(8, -8, -8, 8, "#d9333f", 0.9);
          box(-8, -2, 16, 4, "#fff");
          box(-2, -8, 4, 16, "#fff");
          box(-8, -1.1, 16, 2.2, "#d9333f");
          box(-1.1, -8, 2.2, 16, "#d9333f");
        } else if (kind == "us") {
          box(-8, -8, 16, 16, "#fff");
          d3.range(4).forEach((k) => box(-8, -7 + k * 3.6, 16, 1.8, "#d9333f"));
          box(-8, -8, 8.5, 8, "#2f4f9e");
          box(-8, 3.5, 16, 5, "#d9333f");
        }
      }
    </script>
  </body>
</html>
